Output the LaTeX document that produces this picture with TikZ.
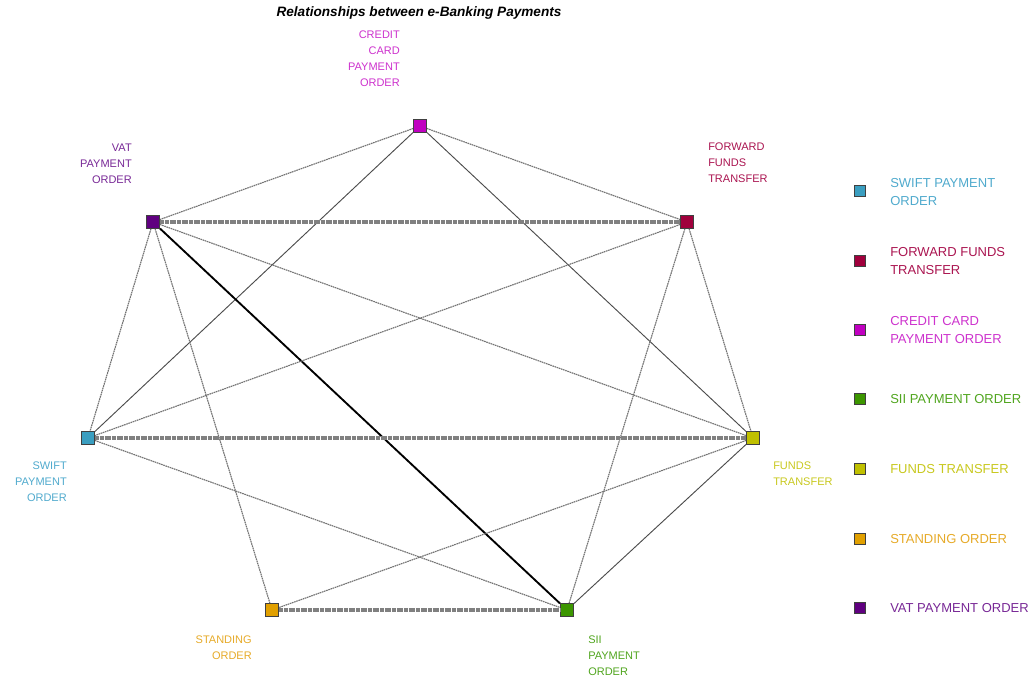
\documentclass[tikz,border=0pt]{standalone}
\usepackage{fontspec}
\setmainfont{Liberation Sans}
\definecolor{swiftc}{RGB}{58,158,192}
\definecolor{swiftt}{RGB}{80,170,205}
\definecolor{forwc}{RGB}{160,0,60}
\definecolor{forwt}{RGB}{170,20,80}
\definecolor{credc}{RGB}{192,0,192}
\definecolor{credt}{RGB}{205,50,205}
\definecolor{siic}{RGB}{60,150,0}
\definecolor{siit}{RGB}{80,165,30}
\definecolor{fundc}{RGB}{192,192,0}
\definecolor{fundt}{RGB}{200,200,30}
\definecolor{standc}{RGB}{225,160,0}
\definecolor{standt}{RGB}{230,170,40}
\definecolor{vatc}{RGB}{96,0,128}
\definecolor{vatt}{RGB}{120,40,150}
\begin{document}
\begin{tikzpicture}[x=0.75pt,y=-0.75pt,
	pay/.style={draw=black!75,line width=0.75pt,minimum size=9.75pt,inner sep=0pt},
	key/.style={draw=black!75,line width=0.75pt,minimum size=8.25pt,inner sep=0pt},
	lbl/.style={inner sep=0pt,font=\fontsize{8.25}{12}\selectfont},
	keylbl/.style={inner sep=0pt,anchor=north west,align=left,font=\fontsize{9.75}{13.5}\selectfont},
	weak/.style={black!55,line width=0.85pt,dash pattern=on 1.2pt off 0.5pt},
	plain/.style={black!70,line width=0.7pt},
	strong/.style={black!50,line width=2.5pt,dash pattern=on 1.5pt off 0.3pt},
	bold/.style={black,line width=1.4pt}]
		\useasboundingbox (0,0) rectangle (1036,677);
		\node [font=\fontsize{10.2}{12}\selectfont\bfseries\itshape] (title) at (419,13) {Relationships between e-Banking Payments};
		% payments
		\node [pay,fill=credc] (cred) at (420,126) {};
		\node [pay,fill=forwc] (forw) at (687,222) {};
		\node [pay,fill=vatc] (vat) at (153,222) {};
		\node [pay,fill=swiftc] (swift) at (88,438) {};
		\node [pay,fill=fundc] (fund) at (753,438) {};
		\node [pay,fill=standc] (stand) at (272,610) {};
		\node [pay,fill=siic] (sii) at (567,610) {};
		\node [lbl,anchor=north east,align=right,text=credt] (credl) at (400,31) {CREDIT\\CARD\\PAYMENT\\ORDER};
		\node [lbl,anchor=north west,align=left,text=forwt] (forwl) at (708,143) {FORWARD\\FUNDS\\TRANSFER};
		\node [lbl,anchor=north east,align=right,text=vatt] (vatl) at (132,144) {VAT\\PAYMENT\\ORDER};
		\node [lbl,anchor=north east,align=right,text=swiftt] (swiftl) at (67,462) {SWIFT\\PAYMENT\\ORDER};
		\node [lbl,anchor=north west,align=left,text=fundt] (fundl) at (773,462) {FUNDS\\TRANSFER};
		\node [lbl,anchor=north east,align=right,text=standt] (standl) at (252,636) {STANDING\\ORDER};
		\node [lbl,anchor=north west,align=left,text=siit] (siil) at (588,636) {SII\\PAYMENT\\ORDER};
		% relationships
		\draw [weak] (cred)--(vat);
		\draw [weak] (cred)--(forw);
		\draw [plain] (cred)--(swift);
		\draw [plain] (cred)--(fund);
		\draw [strong] (vat)--(forw);
		\draw [weak] (vat)--(swift);
		\draw [weak] (vat)--(stand);
		\draw [weak] (vat)--(fund);
		\draw [bold] (vat)--(sii);
		\draw [weak] (forw)--(swift);
		\draw [weak] (forw)--(sii);
		\draw [weak] (forw)--(fund);
		\draw [strong] (swift)--(fund);
		\draw [weak] (swift)--(sii);
		\draw [weak] (fund)--(stand);
		\draw [plain] (fund)--(sii);
		\draw [strong] (stand)--(sii);
		% legend
		\node [key,fill=swiftc] (k1) at (860,191) {};
		\node [key,fill=forwc] (k2) at (860,261) {};
		\node [key,fill=credc] (k3) at (860,330) {};
		\node [key,fill=siic] (k4) at (860,399) {};
		\node [key,fill=fundc] (k5) at (860,469) {};
		\node [key,fill=standc] (k6) at (860,539) {};
		\node [key,fill=vatc] (k7) at (860,608) {};
		\node [keylbl,text=swiftt] (k1l) at (890,178.5) {SWIFT PAYMENT\\ORDER};
		\node [keylbl,text=forwt] (k2l) at (890,247.5) {FORWARD FUNDS\\TRANSFER};
		\node [keylbl,text=credt] (k3l) at (890,316.5) {CREDIT CARD\\PAYMENT ORDER};
		\node [keylbl,text=siit] (k4l) at (890,394.5) {SII PAYMENT ORDER};
		\node [keylbl,text=fundt] (k5l) at (890,464.5) {FUNDS TRANSFER};
		\node [keylbl,text=standt] (k6l) at (890,534.5) {STANDING ORDER};
		\node [keylbl,text=vatt] (k7l) at (890,603.5) {VAT PAYMENT ORDER};
	\end{tikzpicture}
\end{document}
